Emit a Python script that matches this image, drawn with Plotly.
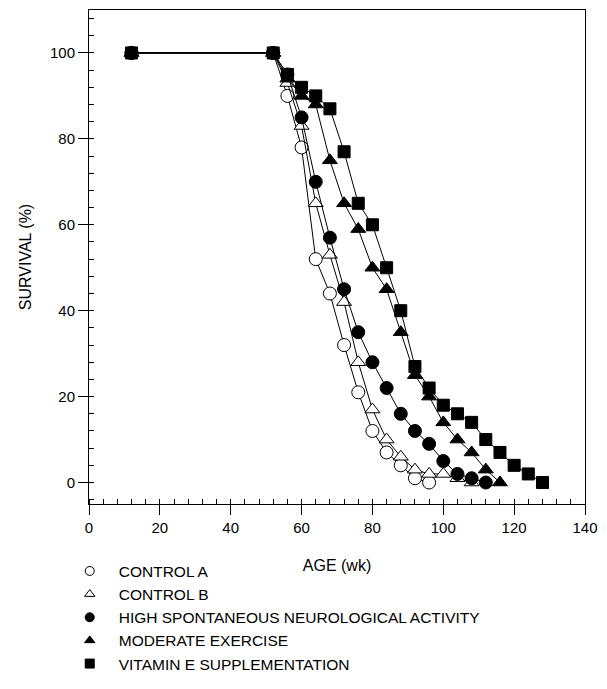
import plotly.graph_objects as go

# ---- data ----
ctrl_a_x = [12, 52, 56, 60, 64, 68, 72, 76, 80, 84, 88, 92, 96]
ctrl_a_y = [100, 100, 90, 78, 52, 44, 32, 21, 12, 7, 4, 1, 0]

ctrl_b_x = [12, 52, 56, 60, 64, 68, 72, 76, 80, 84, 88, 92, 96, 100, 104, 108]
ctrl_b_y = [100, 100, 93, 83, 65, 53, 42, 28, 17, 10, 6, 3, 2, 2, 1, 0]

high_x = [12, 52, 56, 60, 64, 68, 72, 76, 80, 84, 88, 92, 96, 100, 104, 108, 112]
high_y = [100, 100, 95, 85, 70, 57, 45, 35, 28, 22, 16, 12, 9, 5, 2, 1, 0]

mod_x = [12, 52, 56, 60, 64, 68, 72, 76, 80, 84, 88, 92, 96, 100, 104, 108, 112, 116]
mod_y = [100, 100, 94, 90, 88, 75, 65, 59, 50, 45, 35, 25, 20, 14, 10, 7, 3, 0]

vit_x = [12, 52, 56, 60, 64, 68, 72, 76, 80, 84, 88, 92, 96, 100, 104, 108, 112, 116, 120, 124, 128]
vit_y = [100, 100, 95, 92, 90, 87, 77, 65, 60, 50, 40, 27, 22, 18, 16, 14, 10, 7, 4, 2, 0]

names = ["CONTROL A", "CONTROL B", "HIGH SPONTANEOUS NEUROLOGICAL ACTIVITY",
         "MODERATE EXERCISE", "VITAMIN E SUPPLEMENTATION"]

x_ticks = [0, 20, 40, 60, 80, 100, 120, 140]
y_ticks = [0, 20, 40, 60, 80, 100]

FONT = "Arial, Liberation Sans, sans-serif"

series = [
    (ctrl_a_x, ctrl_a_y, "circle", "white", 13),
    (ctrl_b_x, ctrl_b_y, "triangle-up", "white", 13),
    (high_x, high_y, "circle", "black", 13),
    (mod_x, mod_y, "triangle-up", "black", 13),
    (vit_x, vit_y, "square", "black", 12),
]

fig = go.Figure()
# drawing order: open markers at bottom, filled circles on top
order = [0, 1, 4, 3, 2]
for i in order:
    xs, ys, sym, fill, size = series[i]
    fig.add_trace(go.Scatter(x=xs, y=ys, mode="lines+markers",
                             line=dict(color="black", width=1),
                             marker=dict(symbol=sym, size=size, color=fill,
                                         line=dict(color="black", width=1)),
                             showlegend=False))

# legend-only entries (symbols without lines)
for i in range(5):
    xs, ys, sym, fill, size = series[i]
    fig.add_trace(go.Scatter(x=[None], y=[None], mode="markers", name=names[i],
                             marker=dict(symbol=sym, size=9, color=fill,
                                         line=dict(color="black", width=1)),
                             showlegend=True))

fig.update_layout(
    width=607, height=689,
    margin=dict(l=89, r=12, t=9, b=173),
    paper_bgcolor="white", plot_bgcolor="white",
    font=dict(family=FONT, size=15, color="black"),
    legend=dict(x=-0.057, y=-0.102, xanchor="left", yanchor="top",
                font=dict(size=15.5), bgcolor="rgba(0,0,0,0)",
                itemsizing="trace", itemwidth=48),
    xaxis=dict(range=[0, 140], tickvals=x_ticks, ticks="outside", ticklen=10,
               tickcolor="black", showline=True, linecolor="black", linewidth=1,
               mirror=True, showgrid=False, zeroline=False,
               ticklabeloverflow="allow",
               minor=dict(dtick=4, tick0=0, ticks="inside", ticklen=5, tickcolor="black"),
               title=dict(text="AGE (wk)", font=dict(size=16), standoff=24)),
    yaxis=dict(range=[-5, 110], tickvals=y_ticks, ticks="outside", ticklen=10,
               tickcolor="black", showline=True, linecolor="black", linewidth=1,
               mirror=True, showgrid=False, zeroline=False,
               minor=dict(dtick=4, tick0=0, ticks="inside", ticklen=5, tickcolor="black"),
               title=dict(text="SURVIVAL (%)", font=dict(size=16), standoff=14)),
)

fig.write_html("out.html")
